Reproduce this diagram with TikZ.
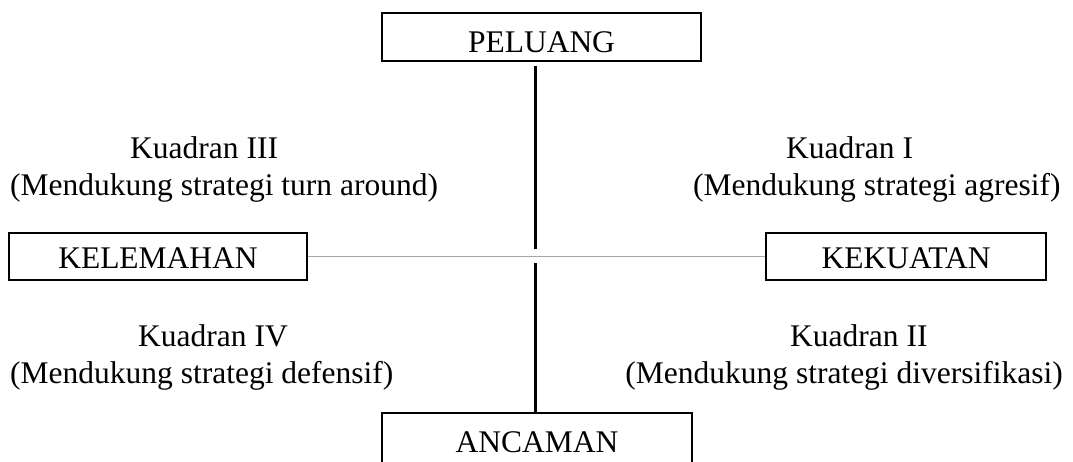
\documentclass[tikz,border=0pt]{standalone}
\usepackage{fontspec}
\setmainfont{Liberation Serif}
\begin{document}
\begin{tikzpicture}[x=1pt,y=-1pt,
  every node/.style={font=\fontsize{31.5}{37}\selectfont},
  box/.style={draw=black,line width=2pt,inner sep=0pt,text depth=0pt},
  quad/.style={inner sep=0pt,anchor=base west},
  quadr/.style={inner sep=0pt,anchor=base east},
  axisv/.style={line width=3pt,black},
  axish/.style={line width=1.6pt,black!35}]
\useasboundingbox (0,0) rectangle (1073,461);
\clip (0,0) rectangle (1073,461);

% factor boxes (the lower one runs past the bottom edge)
\node[box,minimum width=319pt,minimum height=48pt,text height=30pt] (peluang) at (541.5,37) {PELUANG};
\node[box,minimum width=298pt,minimum height=47pt,text height=23pt] (kelemahan) at (158,256.5) {KELEMAHAN};
\node[box,minimum width=280pt,minimum height=47pt,text height=23pt] (kekuatan) at (906,256.5) {KEKUATAN};
\node[box,minimum width=310pt,minimum height=64pt,text height=14pt] (ancaman) at (537,445) {ANCAMAN};

% axes
\coordinate (vtop) at (535,249);
\coordinate (vbot) at (535,263);
\draw[axisv] ([yshift=-4pt]peluang.south -| vtop) -- (vtop);
\draw[axisv] (vbot) -- (ancaman.north -| vbot);
\draw[axish] (kelemahan.east) -- (kekuatan.west);

% quadrant captions
\node[quad] (q3a) at (130,158) {Kuadran III};
\node[quad] (q3b) at (10,195) {(Mendukung strategi turn around)};
\node[quad] (q1a) at (786,158) {Kuadran I};
\node[quad] (q1b) at (693,195) {(Mendukung strategi agresif)};
\node[quad] (q4a) at (138,346) {Kuadran IV};
\node[quad] (q4b) at (10,383) {(Mendukung strategi defensif)};
\node[quad] (q2a) at (790,346) {Kuadran II};
\node[quadr] (q2b) at (1063,383) {(Mendukung strategi diversifikasi)};
\end{tikzpicture}
\end{document}
